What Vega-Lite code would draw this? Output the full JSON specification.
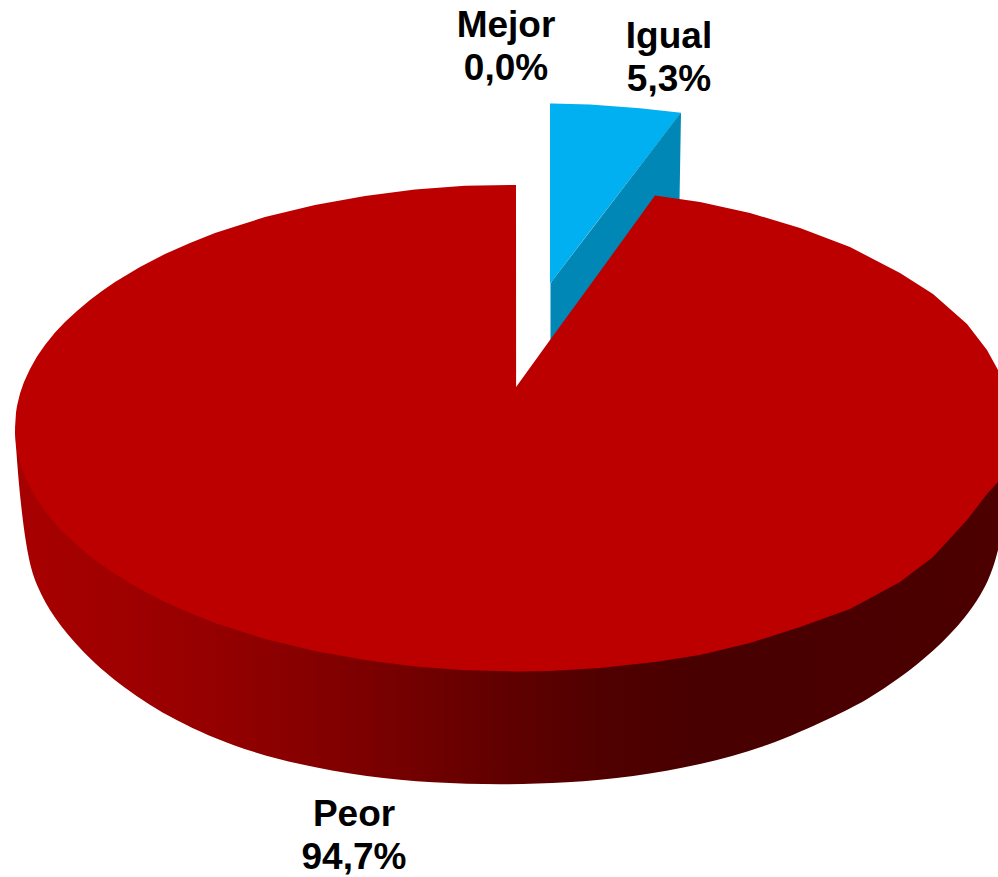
{"$schema":"https://vega.github.io/schema/vega-lite/v6.json","width":998,"height":877,"padding":0,"autosize":{"type":"fit","contains":"padding"},"background":"white","config":{"view":{"stroke":null}},
"encoding":{"x":{"field":"x","type":"quantitative","axis":null,"scale":{"domain":[0,998],"nice":false,"zero":false}},"y":{"field":"y","type":"quantitative","axis":null,"scale":{"domain":[877,0],"nice":false,"zero":false}}},
"layer":[
{"data":{"values":[{"x":15,"y":430,"y2":433},{"x":15.5,"y":430,"y2":440},{"x":20,"y":430,"y2":500},{"x":28,"y":430,"y2":560},{"x":37,"y":430,"y2":587},{"x":53,"y":430,"y2":617},{"x":83,"y":430,"y2":653},{"x":117,"y":430,"y2":683},{"x":167,"y":430,"y2":717},{"x":233,"y":430,"y2":747},{"x":300,"y":430,"y2":765},{"x":367,"y":430,"y2":777},{"x":433,"y":430,"y2":783},{"x":500,"y":430,"y2":785},{"x":567,"y":430,"y2":783},{"x":633,"y":430,"y2":777},{"x":700,"y":430,"y2":765},{"x":767,"y":430,"y2":747},{"x":833,"y":430,"y2":717},{"x":867,"y":430,"y2":700},{"x":900,"y":430,"y2":678},{"x":933,"y":430,"y2":652},{"x":967,"y":430,"y2":617},{"x":990,"y":430,"y2":580},{"x":998,"y":430,"y2":550}]},
"mark":{"type":"area","orient":"vertical","interpolate":"basis","color":{"gradient":"linear","x1":0,"x2":1,"y1":0,"y2":0,"stops":[{"offset":0,"color":"#a80000"},{"offset":0.1,"color":"#a00000"},{"offset":0.2,"color":"#950000"},{"offset":0.3,"color":"#860000"},{"offset":0.4,"color":"#740000"},{"offset":0.5,"color":"#600000"},{"offset":0.6,"color":"#500000"},{"offset":0.7,"color":"#480000"},{"offset":1,"color":"#4c0000"}]}},
"encoding":{"y2":{"field":"y2"}}},
{"data":{"values":[{"x":550,"y":103.5,"y2":284},{"x":552,"y":103.6,"y2":281},{"x":590,"y":104.5,"y2":231},{"x":640,"y":108.3,"y2":166},{"x":681,"y":112.7,"y2":112.7}]},
"mark":{"type":"area","orient":"vertical","color":"#00b0f0"},"encoding":{"y2":{"field":"y2"}}},
{"data":{"values":[{"x":550.5,"y":284,"y2":340},{"x":552,"y":281,"y2":340},{"x":679,"y":115,"y2":230},{"x":681,"y":112.7,"y2":113}]},
"mark":{"type":"area","orient":"vertical","color":"#0087b6"},"encoding":{"y2":{"field":"y2"}}},
{"data":{"values":[{"x":15,"y":428,"y2":428},{"x":16,"y":412.6,"y2":443.4},{"x":17,"y":406,"y2":450},{"x":20,"y":393.6,"y2":462.4},{"x":24,"y":382,"y2":474},{"x":30,"y":369,"y2":487},{"x":37,"y":356.5,"y2":499.5},{"x":45,"y":345,"y2":511},{"x":55,"y":332.6,"y2":523.4},{"x":65,"y":322,"y2":534},{"x":77,"y":311,"y2":545},{"x":90,"y":300,"y2":556},{"x":102,"y":291,"y2":565},{"x":115,"y":282,"y2":574},{"x":140,"y":267,"y2":589},{"x":165,"y":254,"y2":602},{"x":190,"y":243,"y2":613},{"x":215,"y":233,"y2":623},{"x":240,"y":225,"y2":631},{"x":265,"y":217,"y2":639},{"x":315,"y":205,"y2":651},{"x":365,"y":196,"y2":660},{"x":415,"y":189.4,"y2":666.6},{"x":465,"y":185.7,"y2":670.3},{"x":516,"y":185,"y2":671.5},{"x":516.1,"y":387,"y2":671.5},{"x":550,"y":340,"y2":671},{"x":600,"y":271.5,"y2":668},{"x":655,"y":195.5,"y2":662},{"x":700,"y":202,"y2":655},{"x":750,"y":213,"y2":643},{"x":800,"y":228,"y2":627},{"x":850,"y":247,"y2":609},{"x":900,"y":273,"y2":582},{"x":933,"y":294,"y2":557},{"x":967,"y":324,"y2":520},{"x":987,"y":350,"y2":494},{"x":998,"y":370,"y2":482}]},
"mark":{"type":"area","orient":"vertical","color":"#bc0000"},"encoding":{"y2":{"field":"y2"}}},
{"data":{"values":[{"categoria":"Mejor","porcentaje":0.0,"label":"Mejor\n0,0%","x":506,"y":37},{"categoria":"Igual","porcentaje":5.3,"label":"Igual\n5,3%","x":669,"y":48},{"categoria":"Peor","porcentaje":94.7,"label":"Peor\n94,7%","x":354,"y":826}]},
"mark":{"type":"text","font":"Liberation Sans","fontWeight":"bold","fontSize":37,"lineBreak":"\n","lineHeight":43,"align":"center","baseline":"alphabetic","color":"#000000"},"encoding":{"text":{"field":"label"}}}
]}
